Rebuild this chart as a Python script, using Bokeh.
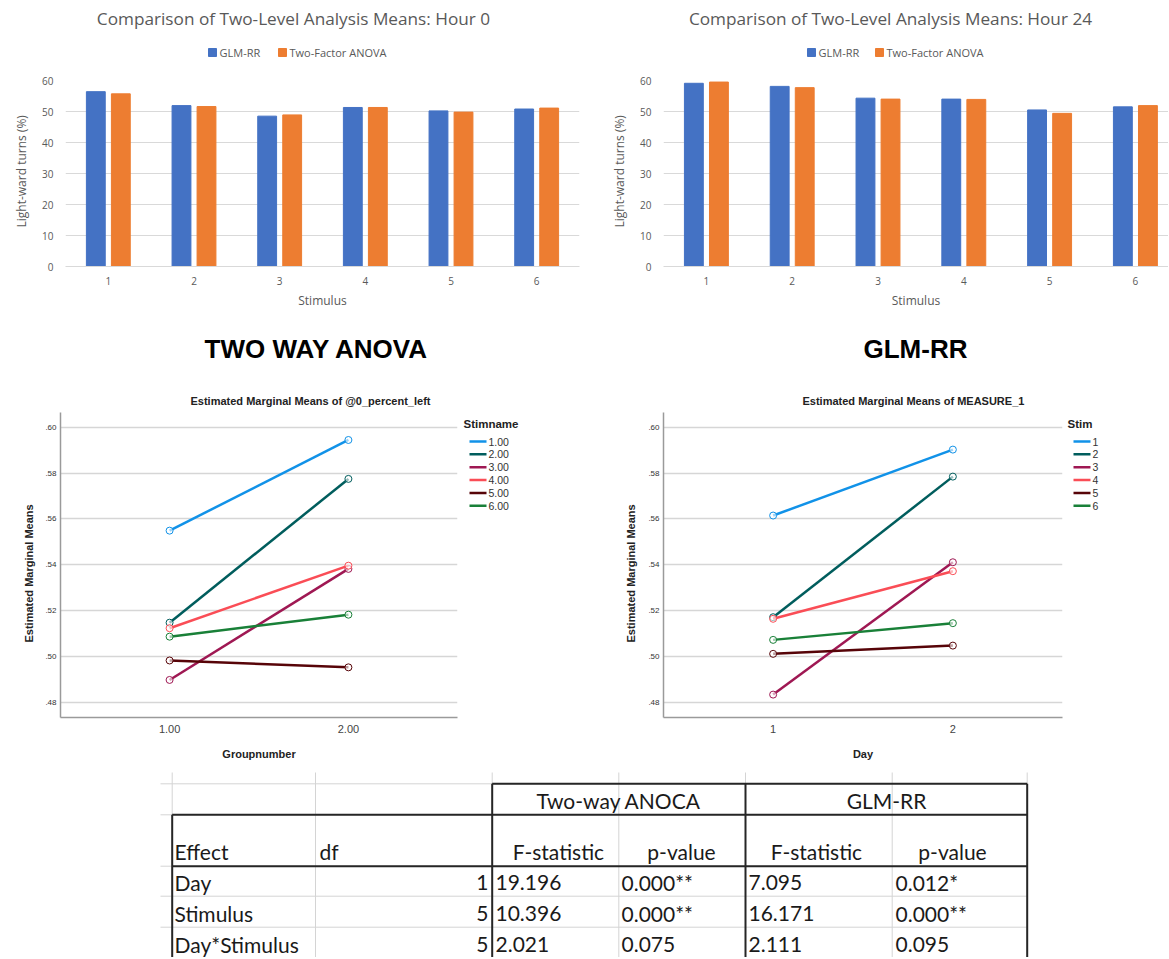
from bokeh.plotting import figure
from bokeh.models import Range1d, FixedTicker, Title, ColumnDataSource
from bokeh.layouts import column, row
from bokeh.embed import file_html
from bokeh.resources import INLINE
from bokeh.core.properties import value
from bokeh.transform import dodge

# ---------------- data ----------------
stimuli = ["1", "2", "3", "4", "5", "6"]
bar_series = ["GLM-RR", "Two-Factor ANOVA"]
hour0_glm = [56.4, 51.9, 48.5, 51.3, 50.2, 50.8]
hour0_anova = [55.7, 51.6, 48.9, 51.3, 49.8, 51.1]
hour24_glm = [59.1, 58.1, 54.3, 54.0, 50.5, 51.5]
hour24_anova = [59.5, 57.7, 54.0, 53.9, 49.4, 51.9]
bar_yticks = [0, 10, 20, 30, 40, 50, 60]

anova_stim_names = ["1.00", "2.00", "3.00", "4.00", "5.00", "6.00"]
glm_stim_names = ["1", "2", "3", "4", "5", "6"]
anova_groups = [1, 2]
anova_group_labels = ["1.00", "2.00"]
glm_days = [1, 2]
glm_day_labels = ["1", "2"]
anova_emm_group1 = [0.5549, 0.5147, 0.4897, 0.5123, 0.4982, 0.5086]
anova_emm_group2 = [0.5945, 0.5775, 0.5382, 0.5396, 0.4952, 0.5182]
glm_emm_day1 = [0.5615, 0.5171, 0.4833, 0.5164, 0.5011, 0.5072]
glm_emm_day2 = [0.5903, 0.5785, 0.5411, 0.5372, 0.5047, 0.5145]
emm_yticks = [0.48, 0.50, 0.52, 0.54, 0.56, 0.58, 0.60]
emm_ytick_labels = [".48", ".50", ".52", ".54", ".56", ".58", ".60"]

table_effects = ["Day", "Stimulus", "Day*Stimulus"]
table_df = ["1", "5", "5"]
anova_F = ["19.196", "10.396", "2.021"]
anova_p = ["0.000**", "0.000**", "0.075"]
glm_F = ["7.095", "16.171", "2.111"]
glm_p = ["0.012*", "0.000**", "0.095"]

# ---------------- styles ----------------
BLUE = "#4472C4"
ORANGE = "#ED7D31"
GREY_TXT = "#595959"
GRID = "#d9d9d9"
LINE_COLORS = ["#1192e8", "#005d5d", "#9f1853", "#fa4d56", "#570408", "#198038"]
XL_FONT = "Open Sans"
SPSS_FONT = "Liberation Sans"


def blank(width, height, x0, x1, y0, y1, left=0, right=0, top=0, bottom=0):
    """A figure without axes whose frame maps page pixels x0..x1 / y0..y1 one to one."""
    p = figure(width=width, height=height, x_range=Range1d(x0, x1), y_range=Range1d(y1, y0),
               output_backend="svg", toolbar_location=None, title_location=None,
               x_axis_type=None, y_axis_type=None,
               min_border_left=left, min_border_right=right,
               min_border_top=top, min_border_bottom=bottom)
    p.outline_line_color = None
    p.xgrid.grid_line_color = None
    p.ygrid.grid_line_color = None
    return p


def bar_header(title, width, page_x0, left, right, title_x, sq1, sq2):
    # frame is aligned with the chart frame below it (same left/right borders)
    p = blank(width, 72, page_x0 + left, page_x0 + width - right, 0, 72, left=left, right=right)
    p.text(x=[title_x], y=[18], text=[title], text_align="center", text_baseline="middle",
           text_font=value(XL_FONT), text_font_size=value("17.2px"), text_color=GREY_TXT)
    p.scatter(x=[sq1, sq2], y=[52, 52], marker="square", size=8,
              fill_color=[BLUE, ORANGE], line_color=[BLUE, ORANGE])
    p.text(x=[sq1 + 7, sq2 + 7], y=[52, 52], text=bar_series, text_align="left",
           text_baseline="middle", text_font=value(XL_FONT), text_font_size=value("11px"),
           text_color=GREY_TXT)
    return p


def bar_chart(glm, anova, width, left, right, x_end):
    p = figure(width=width, height=246, x_range=Range1d(0, x_end), y_range=Range1d(0, 60),
               output_backend="svg", toolbar_location=None, title_location=None,
               min_border_left=left, min_border_right=right, min_border_top=8, min_border_bottom=52)
    xs = [i + 0.5 for i in range(len(stimuli))]
    src = ColumnDataSource(dict(x=xs, glm=glm, anova=anova))
    p.vbar(x=dodge("x", -0.146), top="glm", width=0.22, source=src,
           fill_color=BLUE, line_color=BLUE)
    p.vbar(x=dodge("x", 0.146), top="anova", width=0.22, source=src,
           fill_color=ORANGE, line_color=ORANGE)
    p.outline_line_color = None
    p.xgrid.grid_line_color = None
    p.ygrid.grid_line_color = GRID
    p.ygrid.ticker = FixedTicker(ticks=bar_yticks)
    ya = p.yaxis[0]
    ya.ticker = FixedTicker(ticks=bar_yticks)
    ya.axis_line_color = None
    ya.major_tick_line_color = None
    ya.minor_tick_line_color = None
    ya.major_tick_out = 0
    ya.major_tick_in = 0
    ya.major_label_standoff = 12
    ya.major_label_text_font = XL_FONT
    ya.major_label_text_font_size = "10px"
    ya.major_label_text_color = GREY_TXT
    xa = p.xaxis[0]
    xa.ticker = FixedTicker(ticks=xs)
    xa.major_label_overrides = {x: s for x, s in zip(xs, stimuli)}
    xa.axis_line_color = GRID
    xa.major_tick_line_color = None
    xa.minor_tick_line_color = None
    xa.major_tick_out = 0
    xa.major_tick_in = 0
    xa.major_label_standoff = 10
    xa.major_label_text_font = XL_FONT
    xa.major_label_text_font_size = "10px"
    xa.major_label_text_color = GREY_TXT
    xa.axis_label = "Stimulus"
    xa.axis_label_text_font = XL_FONT
    xa.axis_label_text_font_size = "12px"
    xa.axis_label_text_font_style = "normal"
    xa.axis_label_text_color = GREY_TXT
    xa.axis_label_standoff = 4
    p.add_layout(Title(text="Light-ward turns (%)", align="left", offset=39, standoff=20,
                       text_font=XL_FONT, text_font_size="12px", text_font_style="normal",
                       text_color=GREY_TXT), "left")
    return p


def emm_chart(title, title_offset, xlabel, xvals, xlabels, v1, v2, names, width, left, right,
              ytitle_standoff):
    p = figure(width=width, height=395, x_range=Range1d(0.39, 2.61),
               y_range=Range1d(0.4733, 0.6065),
               output_backend="svg", toolbar_location=None, title_location=None,
               min_border_left=left, min_border_right=right, min_border_top=37, min_border_bottom=53)
    for i, name in enumerate(names):
        src = ColumnDataSource(dict(x=xvals, y=[v1[i], v2[i]]))
        p.line("x", "y", source=src, line_color=LINE_COLORS[i], line_width=2.5)
        p.scatter("x", "y", source=src, size=7, line_color=LINE_COLORS[i], line_width=1,
                  fill_color="white", fill_alpha=0.6)
    p.outline_line_color = None
    p.xgrid.grid_line_color = None
    p.ygrid.ticker = FixedTicker(ticks=emm_yticks)
    p.ygrid.grid_line_color = "#d6d6d6"
    p.ygrid.grid_line_width = 1.5
    ya = p.yaxis[0]
    ya.ticker = FixedTicker(ticks=emm_yticks)
    ya.major_label_overrides = {t: s for t, s in zip(emm_yticks, emm_ytick_labels)}
    ya.axis_line_color = "#9a9a9a"
    ya.axis_line_width = 1.5
    ya.major_tick_line_color = None
    ya.minor_tick_line_color = None
    ya.major_tick_out = 0
    ya.major_tick_in = 0
    ya.major_label_standoff = 4
    ya.major_label_text_font = SPSS_FONT
    ya.major_label_text_font_size = "8px"
    ya.major_label_text_color = "#333333"
    xa = p.xaxis[0]
    xa.ticker = FixedTicker(ticks=xvals)
    xa.major_label_overrides = {x: s for x, s in zip(xvals, xlabels)}
    xa.axis_line_color = "#9a9a9a"
    xa.axis_line_width = 1.5
    xa.major_tick_line_color = None
    xa.minor_tick_line_color = None
    xa.major_tick_out = 0
    xa.major_tick_in = 0
    xa.major_label_standoff = 7
    xa.major_label_text_font = SPSS_FONT
    xa.major_label_text_font_size = "11px"
    xa.major_label_text_color = "#444444"
    xa.axis_label = xlabel
    xa.axis_label_text_font = SPSS_FONT
    xa.axis_label_text_font_size = "11px"
    xa.axis_label_text_font_style = "bold"
    xa.axis_label_text_color = "#222222"
    xa.axis_label_standoff = 12
    p.add_layout(Title(text=title, align="left", offset=title_offset, standoff=12,
                       text_font=SPSS_FONT, text_font_size="11px", text_font_style="bold",
                       text_color="#222222"), "above")
    p.add_layout(Title(text="Estimated Marginal Means", align="left", offset=75,
                       standoff=ytitle_standoff, text_font=SPSS_FONT, text_font_size="11px",
                       text_font_style="bold", text_color="#222222"), "left")
    return p


def emm_legend(title, names, x0, width, left):
    # frame is aligned with the neighbouring chart frames (top 37, bottom 53 px borders)
    p = blank(width, 395, x0, x0 + width, 412, 717, top=37, bottom=53)
    p.text(x=[left], y=[423], text=[title], text_align="left", text_baseline="middle",
           text_font=value(SPSS_FONT), text_font_size=value("11.5px"), text_font_style="bold",
           text_color="#222222")
    ys = [441 + 12.86 * i for i in range(len(names))]
    gx = left + 6
    p.segment(x0=[gx] * len(names), y0=ys, x1=[gx + 17] * len(names), y1=ys,
              line_color=LINE_COLORS[:len(names)], line_width=2.5)
    p.text(x=[gx + 19] * len(names), y=ys, text=names, text_align="left", text_baseline="middle",
           text_font=value(SPSS_FONT), text_font_size=value("10.5px"), text_color="#333333")
    return p


def headings():
    p = blank(1168, 57, 0, 1168, 318, 375)
    p.text(x=[316, 915], y=[348, 348], text=["TWO WAY ANOVA", "GLM-RR"], text_align="center",
           text_baseline="middle", text_font=value(SPSS_FONT), text_font_size=value("26px"),
           text_font_style="bold", text_color="#000000")
    return p


def table_figure():
    p = blank(1168, 187, 0, 1168, 770, 957)
    col_edges = [171.7, 315, 491.7, 618.3, 745, 891.7, 1026.7]
    row_edges = [783.3, 814.3, 865.7, 895.7, 926.7]
    light = "#d4d4d4"
    dark = "#262626"
    p.segment(x0=col_edges, y0=[772] * len(col_edges), x1=col_edges, y1=[960] * len(col_edges),
              line_color=light, line_width=1)
    p.segment(x0=[160] * len(row_edges), y0=row_edges, x1=[1026.7] * len(row_edges),
              y1=row_edges, line_color=light, line_width=1)
    bx0 = [491.7, 171.7, 171.7, 491.7, 745, 1026.7, 171.7]
    by0 = [783.3, 814.3, 865.7, 783.3, 783.3, 783.3, 814.3]
    bx1 = [1026.7, 1026.7, 1026.7, 491.7, 745, 1026.7, 171.7]
    by1 = [783.3, 814.3, 865.7, 960, 960, 960, 960]
    p.segment(x0=bx0, y0=by0, x1=bx1, y1=by1, line_color=dark, line_width=2)
    f = value("Lato")
    fs = value("21px")
    col = "#1a1a1a"
    p.text(x=[618.3, 886], y=[800, 800], text=["Two-way ANOCA", "GLM-RR"], text_align="center",
           text_baseline="middle", text_font=f, text_font_size=fs, text_color=col)
    p.text(x=[174, 319], y=[851, 851], text=["Effect", "df"], text_align="left",
           text_baseline="middle", text_font=f, text_font_size=fs, text_color=col)
    p.text(x=[558, 681, 816, 952], y=[851] * 4,
           text=["F-statistic", "p-value", "F-statistic", "p-value"], text_align="center",
           text_baseline="middle", text_font=f, text_font_size=fs, text_color=col)
    ys = [882, 913, 944]
    p.text(x=[174] * 3, y=ys, text=table_effects, text_align="left", text_baseline="middle",
           text_font=f, text_font_size=fs, text_color=col)
    p.text(x=[488] * 3, y=ys, text=table_df, text_align="right", text_baseline="middle",
           text_font=f, text_font_size=fs, text_color=col)
    for xx, vals in zip([495, 621, 748, 895], [anova_F, anova_p, glm_F, glm_p]):
        p.text(x=[xx] * 3, y=ys, text=vals, text_align="left", text_baseline="middle",
               text_font=f, text_font_size=fs, text_color=col)
    return p


hdr_a = bar_header("Comparison of Two-Level Analysis Means: Hour 0", 580, 0, 65, 1, 293, 212, 282)
fig_a = bar_chart(hour0_glm, hour0_anova, 580, 65, 1, 6.0)
hdr_b = bar_header("Comparison of Two-Level Analysis Means: Hour 24", 588, 580, 83, 0, 890, 811, 879)
fig_b = bar_chart(hour24_glm, hour24_anova, 588, 83, 0, 505 / 85.8)

fig_c = emm_chart("Estimated Marginal Means of @0_percent_left", 130, "Groupnumber",
                  anova_groups, anova_group_labels, anova_emm_group1, anova_emm_group2,
                  anova_stim_names, 460, 60, 3, 16)
leg_c = emm_legend("Stimname", anova_stim_names, 460, 120, 463)
fig_d = emm_chart("Estimated Marginal Means of MEASURE_1", 139, "Day",
                  glm_days, glm_day_labels, glm_emm_day1, glm_emm_day2,
                  glm_stim_names, 485, 83, 3, 18)
leg_d = emm_legend("Stim", glm_stim_names, 1065, 103, 1067)

layout = column(row(column(hdr_a, fig_a), column(hdr_b, fig_b)),
                headings(),
                row(fig_c, leg_c, fig_d, leg_d),
                table_figure())
open("out.html", "w").write(file_html(layout, INLINE))
